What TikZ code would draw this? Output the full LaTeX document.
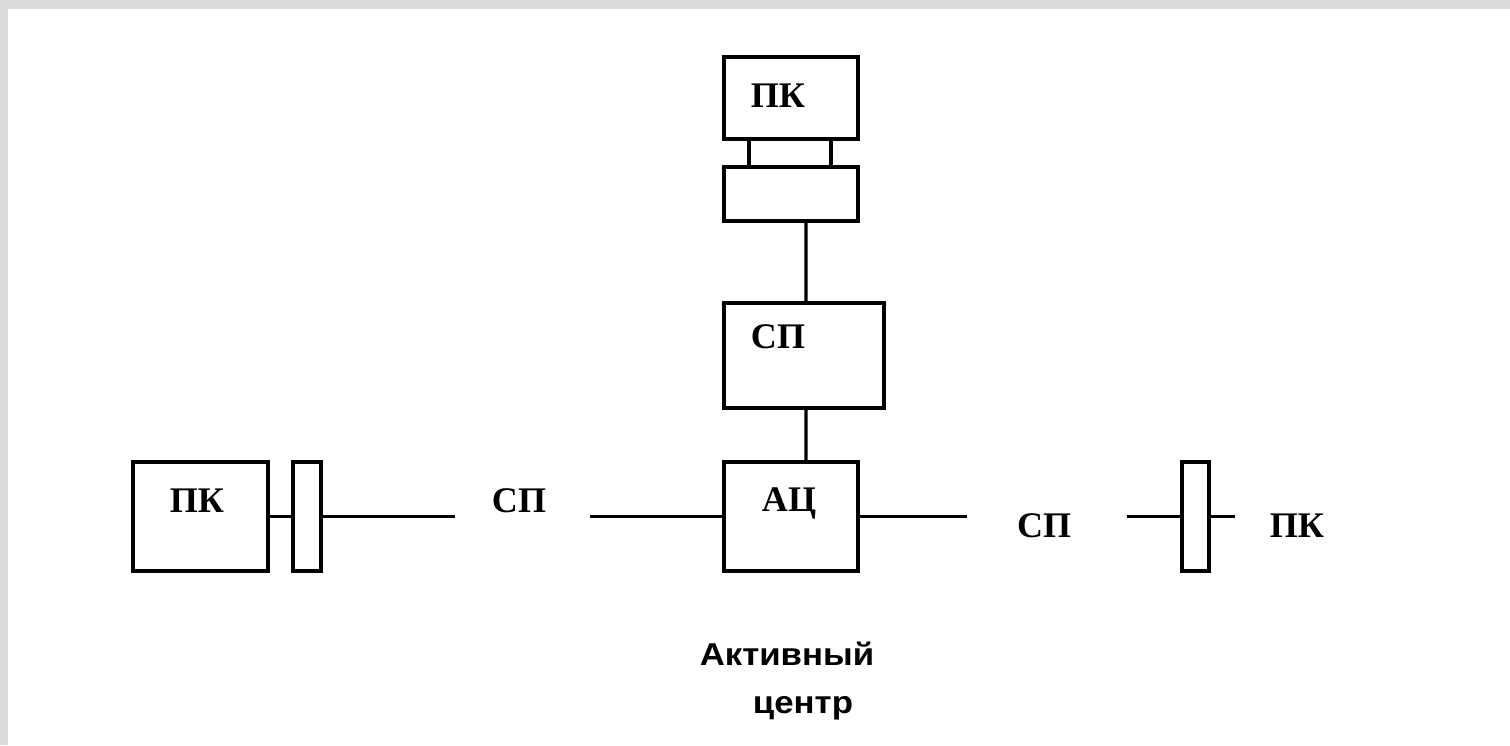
\documentclass[tikz,border=0pt]{standalone}
\usepackage{fontspec}
\setmainfont{Liberation Serif}
\newfontfamily\lblsans[FakeStretch=1.1]{Liberation Sans}
\usetikzlibrary{calc}
\begin{document}
\begin{tikzpicture}[x=0.02cm,y=-0.02cm,line width=1.9pt,
  box/.style={draw,rectangle,inner sep=0pt,outer sep=0pt},
  ser/.style={font=\fontsize{20.5}{24}\selectfont\bfseries,anchor=base,inner sep=0pt},
  sans/.style={font=\lblsans\fontsize{18}{22}\selectfont\bfseries,anchor=base,inner sep=0pt}]
\useasboundingbox (0,0) rectangle (1510,745);
\fill[black!14] (0,0) rectangle (1510,745);
\fill[white] (8,9) rectangle (1510,745);
% boxes
\node[box,minimum width=2.68cm,minimum height=1.64cm] (pktop) at (791,98) {};
\node[box,minimum width=2.68cm,minimum height=1.08cm] (adtop) at (791,194) {};
\node[box,minimum width=3.2cm,minimum height=2.1cm] (sptop) at (804,355.5) {};
\node[box,minimum width=2.68cm,minimum height=2.18cm] (ac) at (791,516.5) {};
\node[box,minimum width=2.7cm,minimum height=2.18cm] (pkl) at (200.5,516.5) {};
\node[box,minimum width=0.56cm,minimum height=2.18cm] (adl) at (307,516.5) {};
\node[box,minimum width=0.54cm,minimum height=2.18cm] (adr) at (1195.5,516.5) {};
% free ends
\coordinate (spl-e) at (590,516.5);
\coordinate (spl-w) at (455,516.5);
\coordinate (spr-w) at (967,516.5);
\coordinate (spr-e) at (1127,516.5);
\coordinate (pkr-w) at (1235,516.5);
% connectors
\draw ($(pktop.south west)+(25,0)$) -- ($(adtop.north west)+(25,0)$);
\draw ($(pktop.south west)+(107,0)$) -- ($(adtop.north west)+(107,0)$);
\draw ($(adtop.south west)+(82,0)$) -- ($(sptop.north west)+(82,0)$);
\draw ($(sptop.south west)+(82,0)$) -- ($(ac.north west)+(82,0)$);
\draw (ac.west) -- (spl-e);
\draw (spl-w) -- (adl.east);
\draw (adl.west) -- (pkl.east);
\draw (ac.east) -- (spr-w);
\draw (spr-e) -- (adr.west);
\draw (adr.east) -- (pkr-w);
% labels
\node[ser] (t-pktop) at (778,107) {ПК};
\node[ser] (t-sptop) at (778,348) {СП};
\node[ser] (t-ac) at (789,511) {АЦ};
\node[ser] (t-pkl) at (197,512) {ПК};
\node[ser] (t-spl) at (519,512) {СП};
\node[ser] (t-spr) at (1044,537) {СП};
\node[ser] (t-pkr) at (1297,537) {ПК};
\node[sans] (t-act1) at (787,665) {Активный};
\node[sans] (t-act2) at (803,713) {центр};
\end{tikzpicture}
\end{document}
